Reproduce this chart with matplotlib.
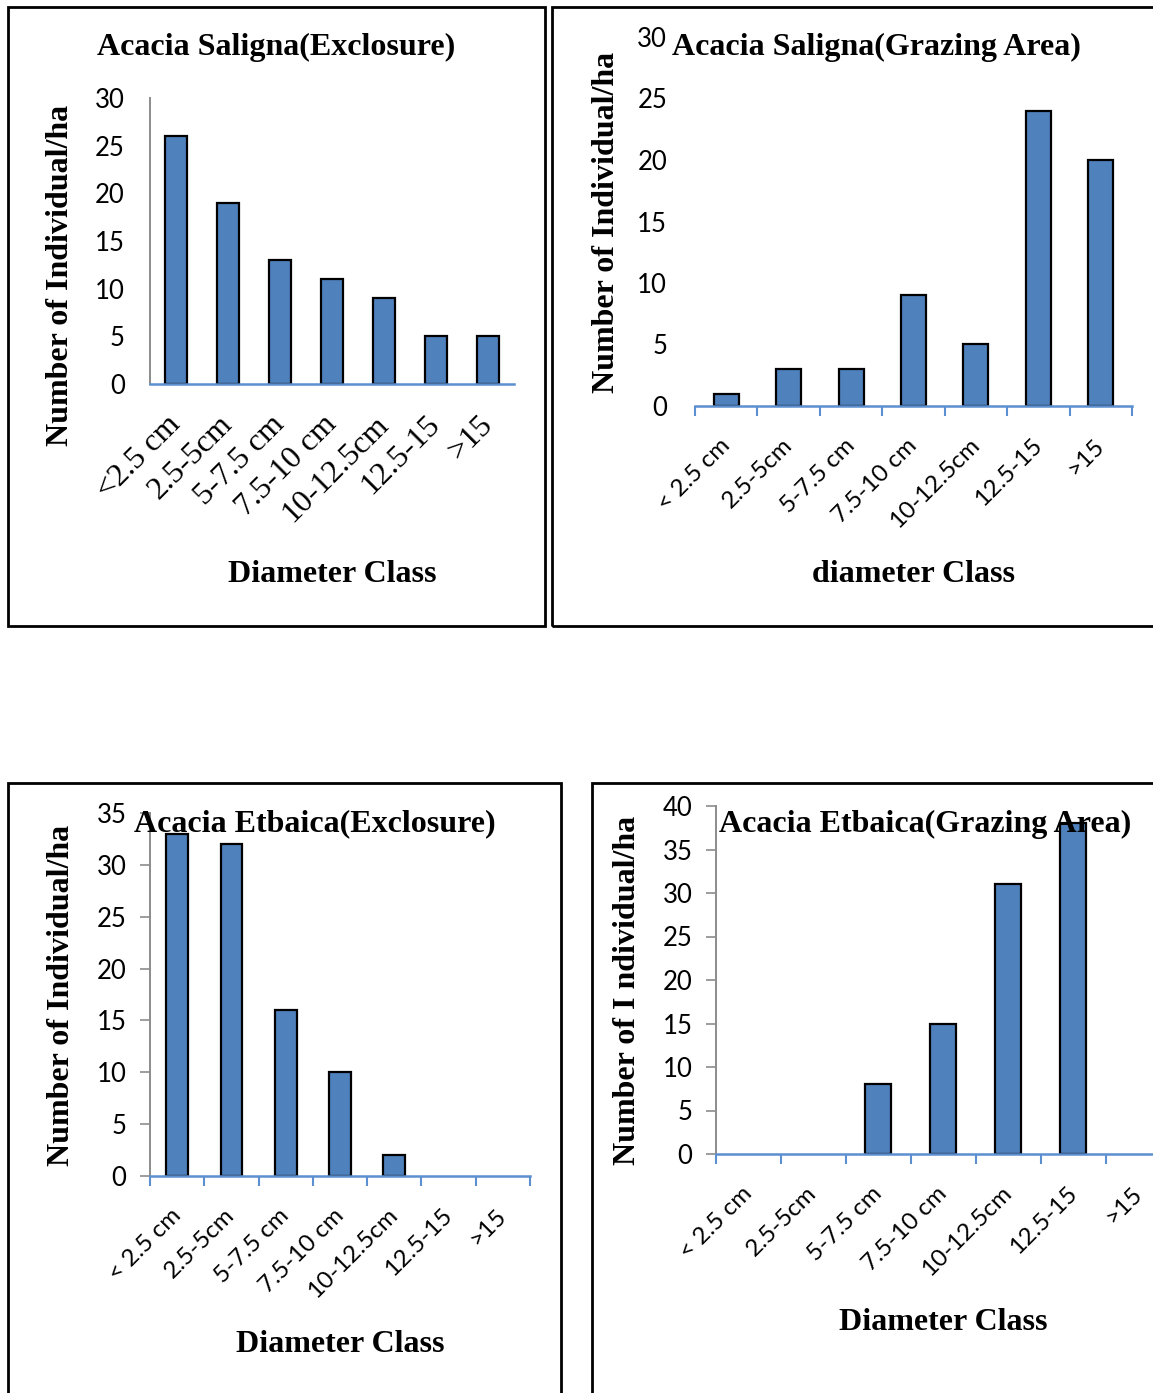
import matplotlib
matplotlib.use("Agg")
import matplotlib.pyplot as plt
from matplotlib.patches import Rectangle

W, H = 1153, 1393

classes_a = ["<2.5 cm", "2.5-5cm", "5-7.5 cm", "7.5-10 cm", "10-12.5cm", "12.5-15", ">15"]
classes_b = ["< 2.5 cm", "2.5-5cm", "5-7.5 cm", "7.5-10 cm", "10-12.5cm", "12.5-15", ">15"]

saligna_exclosure = [26, 19, 13, 11, 9, 5, 5]
saligna_grazing = [1, 3, 3, 9, 5, 24, 20]
etbaica_exclosure = [33, 32, 16, 10, 2, 0, 0]
etbaica_grazing = [0, 0, 8, 15, 31, 38, 0]

BAR = "#4f81bd"
XLINE = "#5b8fd0"
YLINE = "#8c8c8c"
SERIF = "Liberation Serif"
SANS = "Lato"

fig = plt.figure(figsize=(W / 100, H / 100), dpi=100)


def px_axes(x0, x1, ytop, ybot):
    return fig.add_axes([x0 / W, 1 - ybot / H, (x1 - x0) / W, (ybot - ytop) / H])


def ftext(x, y, s, **kw):
    fig.text(x / W, 1 - y / H, s, **kw)


def box(x0, y0, x1, y1):
    fig.patches.append(Rectangle((x0 / W, 1 - y1 / H), (x1 - x0) / W, (y1 - y0) / H,
                                 transform=fig.transFigure, fill=False,
                                 edgecolor="black", linewidth=2))


def panel(ax, vals, labels, ymax, step, width, xticks_marks, yspine, ytick_marks,
          label_font, label_size, pad, ypad):
    n = len(vals)
    # empty classes get no outline, so nothing shows on the baseline
    lw = [1.6 if v else 0 for v in vals]
    ax.bar(range(n), vals, width=width, color=BAR, edgecolor="black", linewidth=lw, zorder=3)
    ax.set_xlim(-0.5, n - 0.5)
    ax.set_ylim(0, ymax)
    ax.set_yticks(range(0, ymax + 1, step))
    ax.tick_params(axis="y", labelsize=18.5, length=7 if ytick_marks else 0,
                   color=YLINE, width=1.2, pad=ypad)
    for t in ax.get_yticklabels():
        t.set_fontfamily(SANS)
    for s in ("top", "right"):
        ax.spines[s].set_visible(False)
    ax.spines["left"].set_visible(yspine)
    ax.spines["left"].set_color(YLINE)
    ax.spines["left"].set_linewidth(1.4)
    ax.spines["bottom"].set_color(XLINE)
    ax.spines["bottom"].set_linewidth(1.8)
    ax.spines["bottom"].set_zorder(4)
    if xticks_marks:
        ax.set_xticks([i - 0.5 for i in range(n + 1)], minor=True)
        ax.tick_params(axis="x", which="minor", length=7, width=1.5, color=XLINE, direction="out")
    ax.set_xticks(range(n))
    ax.set_xticklabels(labels, rotation=45, ha="right", va="center",
                       rotation_mode="anchor", fontfamily=label_font, fontsize=label_size)
    ax.tick_params(axis="x", which="major", length=0, pad=pad)
    ax.patch.set_alpha(0)


title_kw = dict(fontfamily=SERIF, fontweight="bold", fontsize=23, ha="center", va="center")
ylab_kw = dict(fontfamily=SERIF, fontweight="bold", fontsize=23, ha="center", va="center",
               rotation=90)

# Acacia Saligna, exclosure
box(8, 7, 545, 626)
ax1 = px_axes(150, 514, 98, 384)
panel(ax1, saligna_exclosure, classes_a, 30, 5, 0.42, False, True, False, SERIF, 23, 26, 18)
ftext(276, 47, "Acacia Saligna(Exclosure)", **title_kw)
ftext(61, 275, "Number of Individual/ha", **ylab_kw)
ftext(332, 575, "Diameter Class", **title_kw)

# Acacia Saligna, grazing area
box(552, 7, 1160, 626)
ax2 = px_axes(695, 1132, 37, 406)
panel(ax2, saligna_grazing, classes_b, 30, 5, 0.40, True, False, False, SANS, 17.5, 26, 20)
ftext(876, 47, "Acacia Saligna(Grazing Area)", **title_kw)
ftext(606, 222, "Number of Individual/ha", **ylab_kw)
ftext(913, 575, "diameter Class", **title_kw)

# Acacia Etbaica, exclosure
box(8, 783, 561, 1400)
ax3 = px_axes(150, 530, 813, 1176)
panel(ax3, etbaica_exclosure, classes_b, 35, 5, 0.40, True, True, True, SANS, 17.5, 26, 10)
ftext(315, 824, "Acacia Etbaica(Exclosure)", **title_kw)
ftext(62, 995, "Number of Individual/ha", **ylab_kw)
ftext(340, 1345, "Diameter Class", **title_kw)

# Acacia Etbaica, grazing area
box(592, 783, 1160, 1400)
ax4 = px_axes(716, 1171, 806, 1154)
panel(ax4, etbaica_grazing, classes_b, 40, 5, 0.40, True, True, True, SANS, 17.5, 26, 10)
ftext(925, 824, "Acacia Etbaica(Grazing Area)", **title_kw)
ftext(628, 990, "Number of I ndividual/ha", **ylab_kw)
ftext(943, 1322, "Diameter Class", **title_kw)

fig.savefig("out.png", dpi=100)
